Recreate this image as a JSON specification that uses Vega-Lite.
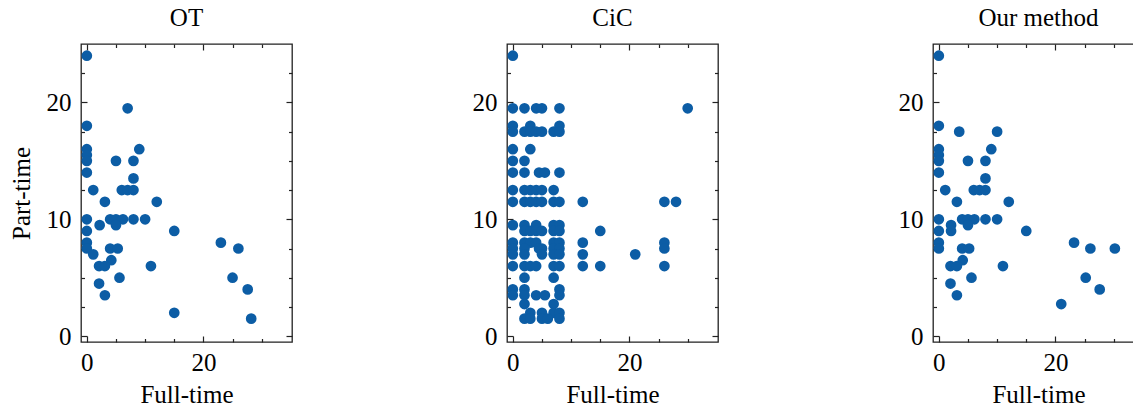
{
  "$schema": "https://vega.github.io/schema/vega-lite/v6.json",
  "background": "white",
  "padding": {"left": 8, "top": 5, "right": 0, "bottom": 0},
  "bounds": "flush",
  "spacing": 215,
  "config": {
    "view": {"stroke": "#222", "strokeWidth": 1.3},
    "axis": {
      "domain": false, "grid": false, "tickColor": "#222", "tickWidth": 1.2,
      "labelFont": "Liberation Serif", "labelFontSize": 25, "labelColor": "#000",
      "titleFont": "Liberation Serif", "titleFontSize": 25, "titleFontWeight": "normal", "titleColor": "#000"
    },
    "title": {"font": "Liberation Serif", "fontSize": 25, "fontWeight": "normal", "color": "#000", "offset": 12}
  },
  "datasets": {
    "ot": [
      {"ft":0,"pt":24},{"ft":7,"pt":19.5},{"ft":0,"pt":18},{"ft":0,"pt":16},{"ft":0,"pt":15.5},{"ft":0,"pt":15},{"ft":0,"pt":14},
      {"ft":9,"pt":16},{"ft":5,"pt":15},{"ft":8,"pt":15},{"ft":8,"pt":13.5},{"ft":1.1,"pt":12.5},{"ft":6,"pt":12.5},{"ft":7,"pt":12.5},
      {"ft":8,"pt":12.5},{"ft":3.1,"pt":11.5},{"ft":12,"pt":11.5},{"ft":0,"pt":10},{"ft":4,"pt":10},{"ft":5,"pt":10},{"ft":6.2,"pt":10},
      {"ft":5,"pt":9.5},{"ft":2.2,"pt":9.5},{"ft":8,"pt":10},{"ft":10,"pt":10},{"ft":0,"pt":9},{"ft":15,"pt":9},{"ft":0,"pt":8},
      {"ft":0,"pt":7.5},{"ft":1.1,"pt":7},{"ft":4,"pt":7.5},{"ft":5.3,"pt":7.5},{"ft":4.2,"pt":6.5},{"ft":2.1,"pt":6},{"ft":3.1,"pt":6},
      {"ft":11,"pt":6},{"ft":2.1,"pt":4.5},{"ft":3.1,"pt":3.5},{"ft":5.6,"pt":5},{"ft":15,"pt":2},{"ft":23,"pt":8},{"ft":26,"pt":7.5},
      {"ft":25,"pt":5},{"ft":27.6,"pt":4},{"ft":28.2,"pt":1.5}
    ],
    "cic": [
      {"ft":0,"pt":24},
      {"ft":0,"pt":19.5},{"ft":2,"pt":19.5},{"ft":4,"pt":19.5},{"ft":5,"pt":19.5},{"ft":8,"pt":19.5},{"ft":30,"pt":19.5},
      {"ft":0,"pt":18},{"ft":3,"pt":18},{"ft":8,"pt":18},
      {"ft":0,"pt":17.5},{"ft":2,"pt":17.5},{"ft":3,"pt":17.5},{"ft":4,"pt":17.5},{"ft":5,"pt":17.5},{"ft":7,"pt":17.5},{"ft":8,"pt":17.5},
      {"ft":0,"pt":16},{"ft":3,"pt":16},
      {"ft":0,"pt":15},{"ft":2,"pt":15},
      {"ft":0,"pt":14},{"ft":2,"pt":14},{"ft":4.5,"pt":14},{"ft":5.5,"pt":14},{"ft":8,"pt":14},
      {"ft":0,"pt":12.5},{"ft":2,"pt":12.5},{"ft":3,"pt":12.5},{"ft":4,"pt":12.5},{"ft":5,"pt":12.5},{"ft":7,"pt":12.5},
      {"ft":0,"pt":11.5},{"ft":2,"pt":11.5},{"ft":3,"pt":11.5},{"ft":4,"pt":11.5},{"ft":5,"pt":11.5},{"ft":7,"pt":11.5},{"ft":8,"pt":11.5},{"ft":12,"pt":11.5},{"ft":26,"pt":11.5},{"ft":28,"pt":11.5},
      {"ft":0,"pt":9.5},{"ft":2,"pt":9.5},{"ft":4,"pt":9.5},{"ft":7,"pt":9.5},{"ft":8,"pt":9.5},
      {"ft":2,"pt":9},{"ft":3,"pt":9},{"ft":4,"pt":9},{"ft":5,"pt":9},{"ft":7,"pt":9},{"ft":8,"pt":9},{"ft":15,"pt":9},
      {"ft":0,"pt":8},{"ft":2,"pt":8},{"ft":3,"pt":8},{"ft":4,"pt":8},{"ft":7,"pt":8},{"ft":8,"pt":8},{"ft":12,"pt":8},{"ft":26,"pt":8},
      {"ft":0,"pt":7.5},{"ft":2,"pt":7.5},{"ft":4.5,"pt":7.5},{"ft":5,"pt":7.5},{"ft":7,"pt":7.5},{"ft":8,"pt":7.5},{"ft":26,"pt":7.5},
      {"ft":0,"pt":7},{"ft":2,"pt":7},{"ft":5,"pt":7},{"ft":7,"pt":7},{"ft":8,"pt":7},{"ft":12,"pt":7},{"ft":21,"pt":7},
      {"ft":0,"pt":6},{"ft":2,"pt":6},{"ft":3,"pt":6},{"ft":4,"pt":6},{"ft":7,"pt":6},{"ft":8,"pt":6},{"ft":12,"pt":6},{"ft":15,"pt":6},{"ft":26,"pt":6},
      {"ft":2,"pt":5},{"ft":7,"pt":5},
      {"ft":0,"pt":4},{"ft":2,"pt":4},{"ft":8,"pt":4},
      {"ft":0,"pt":3.5},{"ft":2,"pt":3.5},{"ft":4,"pt":3.5},{"ft":5.5,"pt":3.5},{"ft":8,"pt":3.5},
      {"ft":2,"pt":2.75},{"ft":7,"pt":2.75},
      {"ft":3,"pt":2},{"ft":5,"pt":2},{"ft":7,"pt":2},{"ft":8,"pt":2},
      {"ft":2,"pt":1.5},{"ft":3,"pt":1.5},{"ft":5,"pt":1.5},{"ft":6,"pt":1.5},{"ft":8,"pt":1.5}
    ],
    "ours": [
      {"ft":0,"pt":24},{"ft":0,"pt":18},{"ft":0,"pt":16},{"ft":0,"pt":15.5},{"ft":0,"pt":15},{"ft":0,"pt":14},{"ft":3.5,"pt":17.5},
      {"ft":10,"pt":17.5},{"ft":9,"pt":16},{"ft":5,"pt":15},{"ft":8,"pt":15},{"ft":8,"pt":13.5},{"ft":1.1,"pt":12.5},{"ft":6,"pt":12.5},
      {"ft":7,"pt":12.5},{"ft":8,"pt":12.5},{"ft":3.1,"pt":11.5},{"ft":12,"pt":11.5},{"ft":0,"pt":10},{"ft":4,"pt":10},{"ft":5,"pt":10},
      {"ft":6.1,"pt":10},{"ft":5,"pt":9.5},{"ft":2.1,"pt":9.5},{"ft":2.1,"pt":9},{"ft":8,"pt":10},{"ft":10,"pt":10},{"ft":0,"pt":9},
      {"ft":15,"pt":9},{"ft":0,"pt":8},{"ft":0,"pt":7.5},{"ft":4,"pt":7.5},{"ft":5.2,"pt":7.5},{"ft":4.1,"pt":6.5},{"ft":2,"pt":6},
      {"ft":3.1,"pt":6},{"ft":11,"pt":6},{"ft":2,"pt":4.5},{"ft":3.1,"pt":3.5},{"ft":5.6,"pt":5},{"ft":21,"pt":2.75},{"ft":23.2,"pt":8},
      {"ft":26,"pt":7.5},{"ft":30.2,"pt":7.5},{"ft":25.2,"pt":5},{"ft":27.6,"pt":4}
    ]
  },
  "hconcat": [
    {
      "title": "OT", "width": 211, "height": 298,
      "data": {"name": "ot"},
      "resolve": {"axis": {"x": "independent", "y": "independent"}, "scale": {"x": "shared", "y": "shared"}},
      "layer": [
        {"mark": {"type": "circle", "size": 115, "color": "#0C5DA5", "opacity": 1},
         "encoding": {
           "x": {"field": "ft", "type": "quantitative", "scale": {"domain": [-1, 35.2], "nice": false, "zero": false},
                 "axis": {"orient": "bottom", "values": [0, 20], "tickSize": -6, "labelPadding": 14, "title": "Full-time", "titlePadding": 7}},
           "y": {"field": "pt", "type": "quantitative", "scale": {"domain": [-0.5, 25], "nice": false, "zero": false},
                 "axis": {"orient": "left", "values": [0, 10, 20], "tickSize": -6, "labelPadding": 16, "title": "Part-time", "titlePadding": 12}}}},
        {"mark": {"type": "point", "opacity": 0},
         "encoding": {
           "x": {"field": "ft", "type": "quantitative", "axis": {"orient": "bottom", "values": [5, 10, 15, 25, 30], "tickSize": -3.5, "labels": false, "title": null}},
           "y": {"field": "pt", "type": "quantitative", "axis": {"orient": "left", "values": [2.5, 5, 7.5, 12.5, 15, 17.5, 22.5], "tickSize": -3.5, "labels": false, "title": null}}}},
        {"mark": {"type": "point", "opacity": 0},
         "encoding": {
           "x": {"field": "ft", "type": "quantitative", "axis": {"orient": "top", "values": [0, 20], "tickSize": -6, "labels": false, "title": null}},
           "y": {"field": "pt", "type": "quantitative", "axis": {"orient": "right", "values": [0, 10, 20], "tickSize": -6, "labels": false, "title": null}}}},
        {"mark": {"type": "point", "opacity": 0},
         "encoding": {
           "x": {"field": "ft", "type": "quantitative", "axis": {"orient": "top", "values": [5, 10, 15, 25, 30], "tickSize": -3.5, "labels": false, "title": null}},
           "y": {"field": "pt", "type": "quantitative", "axis": {"orient": "right", "values": [2.5, 5, 7.5, 12.5, 15, 17.5, 22.5], "tickSize": -3.5, "labels": false, "title": null}}}}
      ]
    },
    {
      "title": "CiC", "width": 211, "height": 298,
      "data": {"name": "cic"},
      "resolve": {"axis": {"x": "independent", "y": "independent"}, "scale": {"x": "shared", "y": "shared"}},
      "layer": [
        {"mark": {"type": "circle", "size": 115, "color": "#0C5DA5", "opacity": 1},
         "encoding": {
           "x": {"field": "ft", "type": "quantitative", "scale": {"domain": [-1, 35.2], "nice": false, "zero": false},
                 "axis": {"orient": "bottom", "values": [0, 20], "tickSize": -6, "labelPadding": 14, "title": "Full-time", "titlePadding": 7}},
           "y": {"field": "pt", "type": "quantitative", "scale": {"domain": [-0.5, 25], "nice": false, "zero": false},
                 "axis": {"orient": "left", "values": [0, 10, 20], "tickSize": -6, "labelPadding": 16, "title": null}}}},
        {"mark": {"type": "point", "opacity": 0},
         "encoding": {
           "x": {"field": "ft", "type": "quantitative", "axis": {"orient": "bottom", "values": [5, 10, 15, 25, 30], "tickSize": -3.5, "labels": false, "title": null}},
           "y": {"field": "pt", "type": "quantitative", "axis": {"orient": "left", "values": [2.5, 5, 7.5, 12.5, 15, 17.5, 22.5], "tickSize": -3.5, "labels": false, "title": null}}}},
        {"mark": {"type": "point", "opacity": 0},
         "encoding": {
           "x": {"field": "ft", "type": "quantitative", "axis": {"orient": "top", "values": [0, 20], "tickSize": -6, "labels": false, "title": null}},
           "y": {"field": "pt", "type": "quantitative", "axis": {"orient": "right", "values": [0, 10, 20], "tickSize": -6, "labels": false, "title": null}}}},
        {"mark": {"type": "point", "opacity": 0},
         "encoding": {
           "x": {"field": "ft", "type": "quantitative", "axis": {"orient": "top", "values": [5, 10, 15, 25, 30], "tickSize": -3.5, "labels": false, "title": null}},
           "y": {"field": "pt", "type": "quantitative", "axis": {"orient": "right", "values": [2.5, 5, 7.5, 12.5, 15, 17.5, 22.5], "tickSize": -3.5, "labels": false, "title": null}}}}
      ]
    },
    {
      "title": "Our method", "width": 211, "height": 298,
      "data": {"name": "ours"},
      "resolve": {"axis": {"x": "independent", "y": "independent"}, "scale": {"x": "shared", "y": "shared"}},
      "layer": [
        {"mark": {"type": "circle", "size": 115, "color": "#0C5DA5", "opacity": 1},
         "encoding": {
           "x": {"field": "ft", "type": "quantitative", "scale": {"domain": [-1, 35.2], "nice": false, "zero": false},
                 "axis": {"orient": "bottom", "values": [0, 20], "tickSize": -6, "labelPadding": 14, "title": "Full-time", "titlePadding": 7}},
           "y": {"field": "pt", "type": "quantitative", "scale": {"domain": [-0.5, 25], "nice": false, "zero": false},
                 "axis": {"orient": "left", "values": [0, 10, 20], "tickSize": -6, "labelPadding": 16, "title": null}}}},
        {"mark": {"type": "point", "opacity": 0},
         "encoding": {
           "x": {"field": "ft", "type": "quantitative", "axis": {"orient": "bottom", "values": [5, 10, 15, 25, 30], "tickSize": -3.5, "labels": false, "title": null}},
           "y": {"field": "pt", "type": "quantitative", "axis": {"orient": "left", "values": [2.5, 5, 7.5, 12.5, 15, 17.5, 22.5], "tickSize": -3.5, "labels": false, "title": null}}}},
        {"mark": {"type": "point", "opacity": 0},
         "encoding": {
           "x": {"field": "ft", "type": "quantitative", "axis": {"orient": "top", "values": [0, 20], "tickSize": -6, "labels": false, "title": null}},
           "y": {"field": "pt", "type": "quantitative", "axis": {"orient": "right", "values": [0, 10, 20], "tickSize": -6, "labels": false, "title": null}}}},
        {"mark": {"type": "point", "opacity": 0},
         "encoding": {
           "x": {"field": "ft", "type": "quantitative", "axis": {"orient": "top", "values": [5, 10, 15, 25, 30], "tickSize": -3.5, "labels": false, "title": null}},
           "y": {"field": "pt", "type": "quantitative", "axis": {"orient": "right", "values": [2.5, 5, 7.5, 12.5, 15, 17.5, 22.5], "tickSize": -3.5, "labels": false, "title": null}}}}
      ]
    }
  ]
}
